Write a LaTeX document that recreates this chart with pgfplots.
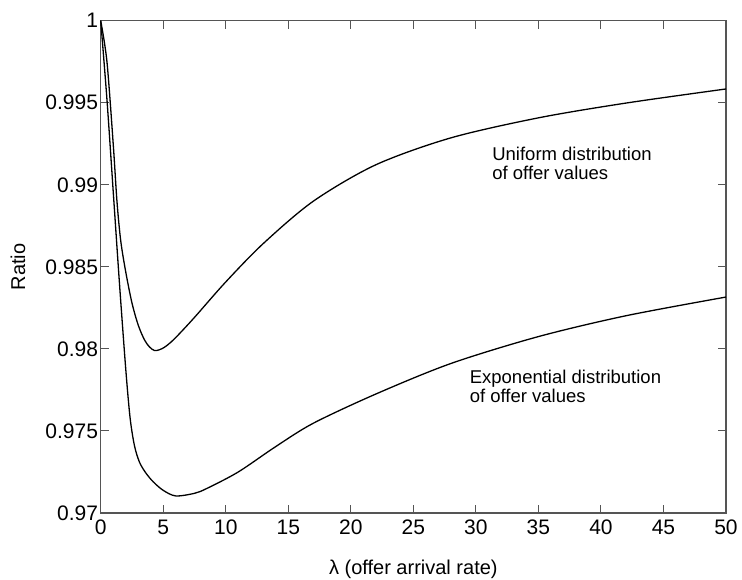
\documentclass[border=0pt]{standalone}
\usepackage{fontspec}
\setmainfont{Liberation Sans}
\usepackage{pgfplots}
\pgfplotsset{compat=1.18}

\definecolor{axisgray}{RGB}{85,85,85}

\begin{document}
\begin{tikzpicture}
\begin{axis}[
  scale only axis,
  width=625.3pt, height=492.3pt,
  xmin=0, xmax=50, ymin=0.97, ymax=1,
  xtick={0,5,...,50},
  ytick={0.97,0.975,0.98,0.985,0.99,0.995,1},
  tick align=inside,
  major tick length=8pt,
  axis line style={axisgray, line width=1.1pt},
  every tick/.style={axisgray, line width=1.1pt},
  /pgf/number format/fixed,
  /pgf/number format/precision=3,
  /pgf/number format/assume math mode=true,
  ticklabel style={font=\fontsize{21}{21}\selectfont, inner sep=0pt},
  yticklabel style={xshift=-2.5pt},
  xticklabel style={yshift=-7pt},
  xlabel={λ (offer arrival rate)},
  ylabel={Ratio},
  label style={font=\fontsize{20}{20}\selectfont},
  xlabel style={at={(axis description cs:0.5,0)}, anchor=base, yshift=-62pt},
  ylabel style={at={(axis description cs:-0.121,0.5)}, anchor=base},
  clip=false,
]
% uniform distribution of offer values
\addplot[black, line width=1.3pt, smooth, tension=0.5] coordinates {
(0,1.0) (0.5,0.9975) (1.0,0.9925) (1.3,0.9890) (1.6,0.9866) (2.0,0.9847)
(2.5,0.9828) (3.0,0.98145) (3.5,0.98055) (3.9,0.98012) (4.3,0.97990)
(4.7,0.97995) (5.1,0.98010) (5.6,0.98040) (6.2,0.98085) (7.5,0.98192)
(10,0.98408) (13,0.98642) (17,0.98900) (22,0.99122) (28,0.99286)
(35,0.99408) (42,0.99498) (50,0.99584)
};
% exponential distribution of offer values
\addplot[black, line width=1.3pt, smooth, tension=0.5] coordinates {
(0,1.0) (0.5,0.9952) (1.0,0.9896) (1.5,0.9840) (2.0,0.9788) (2.35,0.9758)
(2.7,0.9741) (3.1,0.9731) (3.6,0.97245) (4.2,0.9719) (5.0,0.97138)
(6.0,0.97104) (7.5,0.97120) (8.5,0.97150) (11,0.97250) (14,0.97405)
(17,0.97547) (22,0.97725) (28,0.97911) (35,0.98075) (42,0.98202) (50,0.98316)
};
\node[anchor=north west, align=left, inner sep=0pt,
  font=\fontsize{18.5}{19}\selectfont] at (axis cs:31.3,0.9923)
  {Uniform distribution\\of offer values};
\node[anchor=north west, align=left, inner sep=0pt,
  font=\fontsize{18.5}{19}\selectfont] at (axis cs:29.5,0.9787)
  {Exponential distribution\\of offer values};
\coordinate (bl) at (rel axis cs:0,0);
\coordinate (tr) at (rel axis cs:1,1);
\end{axis}
\pgfresetboundingbox
\path[use as bounding box] ([shift={(-100.7pt,-67pt)}]bl) rectangle ([shift={(16pt,20.7pt)}]tr);
\end{tikzpicture}
\end{document}
